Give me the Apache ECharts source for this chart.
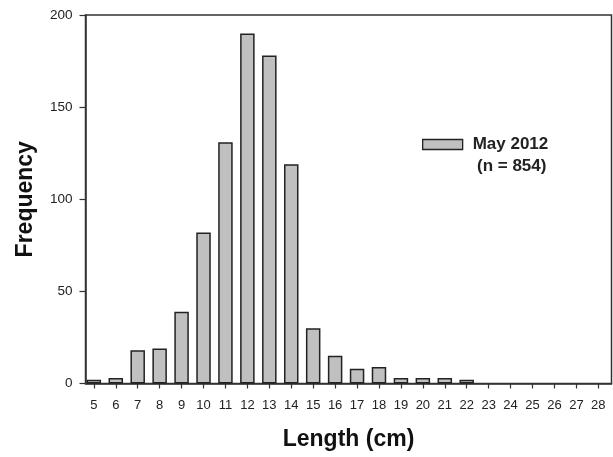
<!DOCTYPE html>
<html>
<head>
<meta charset="utf-8">
<script src="https://cdn.jsdelivr.net/npm/echarts@6/dist/echarts.min.js"></script>
<style>
  html, body { margin: 0; padding: 0; background: #fff; }
  #chart { width: 613px; height: 457px; }
</style>
</head>
<body>
<div id="chart"></div>
<script>
// Length-frequency distribution, May 2012 sample
const lengths = [5, 6, 7, 8, 9, 10, 11, 12, 13, 14, 15, 16, 17, 18, 19, 20, 21, 22, 23, 24, 25, 26, 27, 28];
const frequency = [2, 3, 18, 19, 39, 82, 131, 190, 178, 119, 30, 15, 8, 9, 3, 3, 3, 2, 0, 0, 0, 0, 0, 0];
const yTicks = [0, 50, 100, 150, 200];
const seriesName = 'May 2012';
const sampleNote = '(n = 854)';

const chart = echarts.init(document.getElementById('chart'), null, { renderer: 'canvas' });

const font = 'Arial, "Liberation Sans", Helvetica, sans-serif';
const ink = '#222';

chart.setOption({
  animation: false,
  backgroundColor: '#fff',
  grid: {
    left: 85.5, top: 15, right: 1.5, bottom: 73.5,
    show: true, borderColor: '#333', borderWidth: 1.5, backgroundColor: 'transparent'
  },
  legend: {
    show: true,
    data: [{ name: seriesName, icon: 'rect' }],
    left: 422, top: 136, padding: 0,
    itemWidth: 40, itemHeight: 10, itemGap: 10,
    textStyle: { fontFamily: font, fontSize: 17, fontWeight: 'bold', color: ink, padding: [0, 0, 0, 5] },
    itemStyle: { borderColor: '#222', borderWidth: 1.3 },
    selectedMode: false
  },
  graphic: [{
    type: 'text',
    left: 477, top: 158,
    style: { text: sampleNote, font: 'bold 17px ' + font, fill: ink }
  }],
  xAxis: {
    type: 'value',
    min: 4.62, max: 28.6,
    name: 'Length (cm)',
    nameLocation: 'middle',
    nameGap: 45,
    nameTextStyle: { fontFamily: font, fontSize: 23, fontWeight: 'bold', color: '#111' },
    axisLine: { show: true, lineStyle: { color: '#333', width: 1.5 } },
    axisTick: { show: true, customValues: lengths, length: 5, lineStyle: { color: '#333', width: 1.2 } },
    axisLabel: { customValues: lengths, margin: 15, fontFamily: font, fontSize: 13, color: ink },
    splitLine: { show: false }
  },
  yAxis: {
    type: 'value',
    min: 0, max: 200, interval: 50,
    name: 'Frequency',
    nameLocation: 'middle',
    nameGap: 48,
    nameTextStyle: { fontFamily: font, fontSize: 23, fontWeight: 'bold', color: '#111' },
    axisLine: { show: true, lineStyle: { color: '#333', width: 1.5 } },
    axisTick: { show: true, customValues: yTicks, length: 6, lineStyle: { color: '#333', width: 1.2 } },
    axisLabel: { customValues: yTicks, margin: 13, fontFamily: font, fontSize: 13.5, color: ink },
    splitLine: { show: false }
  },
  series: [{
    name: seriesName,
    type: 'bar',
    barWidth: 14.5,
    data: lengths.map((len, i) => [len, frequency[i]]).filter(d => d[1] > 0),
    itemStyle: { color: '#c0c0c0', borderColor: '#222', borderWidth: 1.5 }
  }]
});
</script>
</body>
</html>
